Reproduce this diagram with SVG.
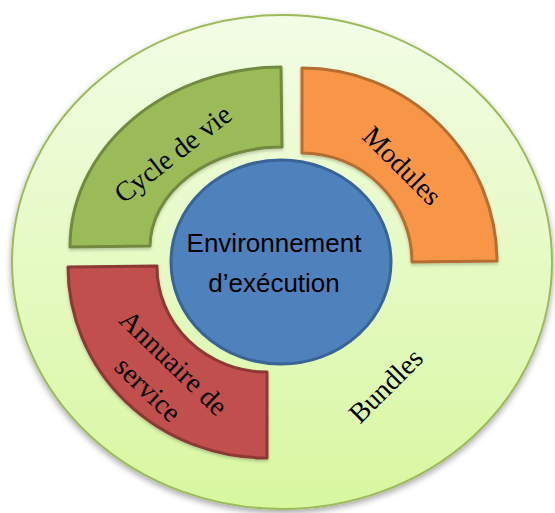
<svg xmlns="http://www.w3.org/2000/svg" width="555" height="513" viewBox="0 0 555 513">
  <style>
    .seg { stroke-width: 3; stroke-linejoin: round; }
    .lbl { font-family: "Liberation Serif", "Times New Roman", serif; font-size: 28px; fill: #000; text-anchor: middle; }
    .core { font-family: "Liberation Sans", Arial, sans-serif; font-size: 26px; fill: #000; text-anchor: middle; }
  </style>
  <defs>
    <linearGradient id="bg" x1="0" y1="0" x2="0" y2="1">
      <stop offset="0" stop-color="#f3fde6"/>
      <stop offset="1" stop-color="#d8f7a0"/>
    </linearGradient>
    <filter id="sh" x="-10%" y="-10%" width="120%" height="125%">
      <feDropShadow dx="0" dy="3" stdDeviation="3" flood-color="#000" flood-opacity="0.35"/>
    </filter>
    <filter id="sh2" x="-10%" y="-10%" width="120%" height="125%">
      <feDropShadow dx="0" dy="2" stdDeviation="1.5" flood-color="#000" flood-opacity="0.2"/>
    </filter>
  </defs>

  <g id="bundles">
    <ellipse cx="282" cy="262" rx="270" ry="247" fill="url(#bg)" stroke="#9bbb59" stroke-width="2" filter="url(#sh)"/>
    <text class="lbl" transform="translate(386,386) rotate(-45)" dy="9">Bundles</text>
  </g>

  <g id="cycle-de-vie">
    <path class="seg" d="M70,247 A212,180 0 0 1 281,67 L282,147 A132,100 0 0 0 150,246 Z" fill="#9bbb59" stroke="#71893f" filter="url(#sh2)"/>
    <text class="lbl" transform="translate(173,154) rotate(-38)" dy="9">Cycle de vie</text>
  </g>

  <g id="modules">
    <path class="seg" d="M302,68 A195,194 0 0 1 497,261 L412,262 A110,109 0 0 0 302,153 Z" fill="#f79646" stroke="#b66d31" filter="url(#sh2)"/>
    <text class="lbl" transform="translate(402,166) rotate(45)" dy="9">Modules</text>
  </g>

  <g id="annuaire-de-service">
    <path class="seg" d="M68,267 L157,266 A110,105 0 0 0 267,372 L267,458 A199,191 0 0 1 68,267 Z" fill="#c0504d" stroke="#8c3836" filter="url(#sh2)"/>
    <text class="lbl" transform="translate(161,376) rotate(44)"><tspan x="0" y="-9">Annuaire de</tspan><tspan x="0" y="28">service</tspan></text>
  </g>

  <g id="environnement">
    <ellipse cx="281" cy="262" rx="110" ry="102" fill="#4f81bd" stroke="#3a6397" stroke-width="3"/>
    <text class="core" x="274" y="252">Environnement</text>
    <text class="core" x="274" y="292">d’exécution</text>
  </g>

  <g id="connectors"/>
</svg>
